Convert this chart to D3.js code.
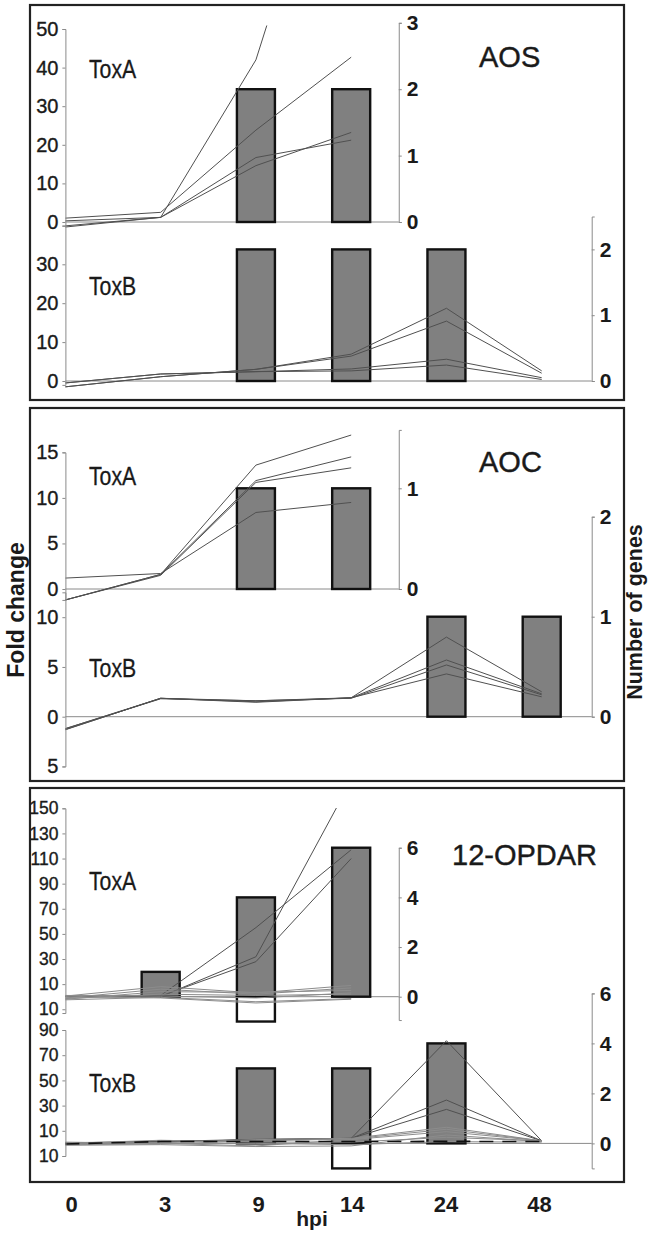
<!DOCTYPE html>
<html><head><meta charset="utf-8">
<script src="https://cdn.jsdelivr.net/npm/d3@7"></script>
<style>body{margin:0;background:#fff}svg{display:block}</style>
</head><body>
<svg id="c" width="661" height="1235"></svg>
<script>
// ---------- DATA ----------
const hpi = ["0","3","9","14","24","48"];

const aosToxAFold = [
  [-1.3, 1.2, 42.0, 120.0, null, null],
  [1.0, 2.5, 23.8, 42.7, null, null],
  [0.3, 1.2, 16.7, 21.2, null, null],
  [-1.0, 1.2, 14.6, 23.2, null, null]
];
const aosToxAGenes = [null, null, 2, 2, null, null];
const aosToxBFold = [
  [-1.5, 1.1, 3.0, 6.9, 18.7, 2.6],
  [-1.5, 1.1, 3.0, 6.4, 15.4, 2.0],
  [-0.5, 1.8, 2.4, 3.1, 5.6, 0.85],
  [-0.5, 1.8, 2.4, 2.6, 4.1, 0.4]
];
const aosToxBGenes = [null, null, 2, 2, 2, null];

const aocToxAFold = [
  [-1.2, 1.6, 13.6, 16.9, null, null],
  [-1.2, 1.6, 11.9, 14.5, null, null],
  [-1.2, 1.5, 11.7, 13.3, null, null],
  [1.2, 1.7, 8.4, 9.5, null, null]
];
const aocToxAGenes = [null, null, 1, 1, null, null];
const aocToxBFold = [
  [-1.2, 1.85, 1.6, 1.9, 8.0, 2.5],
  [-1.3, 1.85, 1.45, 1.9, 5.7, 2.3],
  [-1.2, 1.8, 1.6, 1.85, 5.2, 2.2],
  [-1.3, 1.85, 1.5, 1.9, 4.3, 2.0]
];
const aocToxBGenes = [null, null, null, null, 1, 1];

const opdarToxAFold = [
  [0, 0, 31.8, 172, null, null],
  [0, 0.5, 27.9, 110, null, null],
  [0.5, 1, 55, 117, null, null],
  [0.5, 8, 3, 9, null, null],
  [-1, 6, 2, 7, null, null],
  [-2, 4, 3.5, 5, null, null],
  [1, 0.5, -1, 3, null, null],
  [-2.5, -0.5, -4, -1.5, null, null],
  [0, -1, -5, -2, null, null],
  [-1.5, 2, 1, 2, null, null]
];
const opdarToxAGenes = [null, 1, 4, 6, null, null];
const opdarToxANeg = [null, null, -1, null, null, null];
const opdarToxBFold = [
  [0, 1, 3, 4, 81.5, 2],
  [-0.5, 2, 2.5, 4, 34.4, 2],
  [0.5, 1.5, 3.2, 4, 27, 2],
  [0, 0.5, 3, 4, 12.8, 2],
  [-1, -0.5, 2, 3.5, 11.2, 2],
  [1, 0, -2, 3, 9.3, 2],
  [-1.5, -1, -2.5, -2, 6.7, 1.5],
  [0, 2.5, 1, 1, 4.8, 2],
  [0.5, 0, 0, -1, 1.4, 1],
  [-0.5, 1.5, 1.5, 1.5, 1.6, 1.5]
];
const opdarToxBGenes = [null, null, 3, 3, 4, null];
const opdarToxBNeg = [null, null, null, -1, null, null];

const leftTicksAosA = [0, 10, 20, 30, 40, 50];
const leftTicksAosB = [0, 10, 20, 30];
const leftTicksAocA = [0, 5, 10, 15];
const leftTicksAocB = [-5, 0, 5, 10];
const leftTicksOpA = [-10, 10, 30, 50, 70, 90, 110, 130, 150];
const leftTicksOpB = [-10, 10, 30, 50, 70, 90];
const rightTicksAosA = [0, 1, 2, 3];
const rightTicksAosB = [0, 1, 2];
const rightTicksAocA = [0, 1];
const rightTicksAocB = [0, 1, 2];
const rightTicksOp = [0, 2, 4, 6];

// ---------- LAYOUT ----------
const FONT = "'Liberation Sans', Arial, Helvetica, sans-serif";
const INK = "#1a1a1a";
const svg = d3.select("#c");
svg.append("rect").attr("width", 661).attr("height", 1235).attr("fill", "#fff");

const x = d3.scalePoint().domain(hpi).range([65.4, 541.7]);
const xLab = d3.scalePoint().domain(hpi).range([71.5, 539.5]);
const AX_L = 65.4, AX_R1 = 398.75, AX_R2 = 591.7, BAR_W = 38;

function lin(zero, ppu, lo, hi) {
  return d3.scaleLinear().domain([lo, hi]).range([zero - lo * ppu, zero - hi * ppu]);
}

let clipId = 0;
function sub(o) {
  const g = svg.append("g");
  const yL = lin(o.zeroL, o.ppuL, o.domL[0], o.domL[1]);
  const yR = lin(o.zeroR, o.ppuR, o.domR[0], o.domR[1]);
  g.append("line").attr("x1", AX_L).attr("x2", o.rx)
    .attr("y1", yR(0)).attr("y2", yR(0)).attr("stroke", "#8a8a8a").attr("stroke-width", 1);
  const bars = hpi.map((h, i) => ({h, v: o.genes[i]})).filter(d => d.v != null);
  g.selectAll(null).data(bars).join("rect")
    .attr("x", d => x(d.h) - BAR_W / 2).attr("width", BAR_W)
    .attr("y", d => yR(d.v)).attr("height", d => yR(0) - yR(d.v))
    .attr("fill", "#808080").attr("stroke", "#111").attr("stroke-width", 2.4);
  if (o.neg) {
    const nb = hpi.map((h, i) => ({h, v: o.neg[i]})).filter(d => d.v != null);
    g.selectAll(null).data(nb).join("rect")
      .attr("x", d => x(d.h) - BAR_W / 2).attr("width", BAR_W)
      .attr("y", d => yR(0)).attr("height", d => yR(d.v) - yR(0))
      .attr("fill", "#fff").attr("stroke", "#111").attr("stroke-width", 2.4);
  }
  const id = "clip" + (clipId++);
  svg.append("clipPath").attr("id", id).append("rect")
    .attr("x", 0).attr("y", o.clipTop).attr("width", 661).attr("height", 1235 - o.clipTop);
  const line = d3.line().defined(d => d != null).x((d, i) => x(hpi[i])).y(d => yL(d));
  g.append("g").attr("clip-path", `url(#${id})`)
    .selectAll("path").data(o.fold).join("path")
    .attr("d", d => line(d)).attr("fill", "none")
    .attr("stroke", (d, i) => i === o.dashed ? "#111" : (i < (o.dark || 99) ? "#505050" : "#8c8c8c"))
    .attr("stroke-dasharray", (d, i) => i === o.dashed ? "14,9" : null)
    .attr("stroke-width", (d, i) => i === o.dashed ? 1.6 : 1);
  const al = g.append("g").attr("transform", `translate(${AX_L},0)`)
    .call(d3.axisLeft(yL).tickValues(o.ticksL).tickSizeOuter(0).tickSize(3).tickPadding(4)
      .tickFormat(d => String(Math.abs(d))));
  const ar = g.append("g").attr("transform", `translate(${o.rx},0)`)
    .call(d3.axisRight(yR).tickValues(o.ticksR).tickSizeOuter(0).tickSize(3).tickPadding(5)
      .tickFormat(d3.format("d")));
  [al, ar].forEach(a => {
    a.select(".domain").attr("stroke", "#8a8a8a");
    a.selectAll(".tick line").attr("stroke", "#8a8a8a");
    a.selectAll("text").attr("fill", INK).attr("font-family", FONT);
  });
  al.selectAll("text").attr("font-size", o.fsL).attr("stroke", INK).attr("stroke-width", 0.35);
  ar.selectAll("text").attr("font-size", 21).attr("font-weight", "bold");
  svg.append("text").attr("transform", `translate(89,${o.labY}) scale(0.85,1)`).text(o.label)
    .attr("font-family", FONT).attr("font-size", 25).attr("fill", INK)
    .attr("stroke", INK).attr("stroke-width", 0.3);
}

[[5, 400], [408, 781], [788, 1182]].forEach(p => {
  svg.append("rect").attr("x", 30).attr("y", p[0]).attr("width", 594).attr("height", p[1] - p[0])
    .attr("fill", "none").attr("stroke", "#222").attr("stroke-width", 2.2);
});

sub({fold: aosToxAFold, genes: aosToxAGenes, zeroL: 222, ppuL: 3.86, domL: [-1, 50], ticksL: leftTicksAosA, fsL: 20,
     zeroR: 222, ppuR: 66.4, domR: [0, 3], ticksR: rightTicksAosA, rx: AX_R1, clipTop: 25.5, label: "ToxA", labY: 78});
sub({fold: aosToxBFold, genes: aosToxBGenes, zeroL: 381, ppuL: 3.89, domL: [-1, 40], ticksL: leftTicksAosB, fsL: 20,
     zeroR: 381, ppuR: 65.8, domR: [0, 2.5], ticksR: rightTicksAosB, rx: AX_R2, clipTop: 0, label: "ToxB", labY: 295});
sub({fold: aocToxAFold, genes: aocToxAGenes, zeroL: 589, ppuL: 9.11, domL: [-1.2, 15], ticksL: leftTicksAocA, fsL: 20,
     zeroR: 589, ppuR: 100.7, domR: [0, 1.58], ticksR: rightTicksAocA, rx: AX_R1, clipTop: 0, label: "ToxA", labY: 485});
sub({fold: aocToxBFold, genes: aocToxBGenes, zeroL: 716.7, ppuL: 9.95, domL: [-5, 12.5], ticksL: leftTicksAocB, fsL: 20,
     zeroR: 716.7, ppuR: 100, domR: [0, 2], ticksR: rightTicksAocB, rx: AX_R2, clipTop: 0, label: "ToxB", labY: 677});
sub({fold: opdarToxAFold, genes: opdarToxAGenes, neg: opdarToxANeg, zeroL: 996.7, ppuL: 1.256, domL: [-13, 150], ticksL: leftTicksOpA, fsL: 17.5,
     zeroR: 996.7, ppuR: 24.83, domR: [-0.94, 6], ticksR: rightTicksOp, rx: AX_R1, clipTop: 808, dark: 3, label: "ToxA", labY: 890});
sub({fold: opdarToxBFold, genes: opdarToxBGenes, neg: opdarToxBNeg, zeroL: 1143.4, ppuL: 1.26, domL: [-10, 90], ticksL: leftTicksOpB, fsL: 17.5,
     zeroR: 1143.4, ppuR: 25, domR: [-1, 6], ticksR: rightTicksOp, rx: AX_R2, clipTop: 0, dark: 3, dashed: 9, label: "ToxB", labY: 1092});

[["AOS", 479, 67], ["AOC", 479, 472], ["12-OPDAR", 452, 865]].forEach(t => {
  svg.append("text").attr("x", t[1]).attr("y", t[2]).text(t[0])
    .attr("font-family", FONT).attr("font-size", 29).attr("fill", INK)
    .attr("stroke", INK).attr("stroke-width", 0.4);
});

svg.append("text").attr("transform", "translate(24,610) rotate(-90)").attr("text-anchor", "middle")
  .text("Fold change").attr("font-family", FONT).attr("font-size", 23).attr("font-weight", "bold").attr("fill", INK);
svg.append("text").attr("transform", "translate(642,612) rotate(-90)").attr("text-anchor", "middle")
  .text("Number of genes").attr("font-family", FONT).attr("font-size", 21.5).attr("font-weight", "bold").attr("fill", INK);

svg.append("g").selectAll("text").data(hpi).join("text")
  .attr("x", d => xLab(d)).attr("y", 1212).attr("text-anchor", "middle").text(d => d)
  .attr("font-family", FONT).attr("font-size", 22).attr("font-weight", "bold").attr("fill", INK);
svg.append("text").attr("x", 312).attr("y", 1226).attr("text-anchor", "middle").text("hpi")
  .attr("font-family", FONT).attr("font-size", 21).attr("font-weight", "bold").attr("fill", INK);
</script>
</body></html>
